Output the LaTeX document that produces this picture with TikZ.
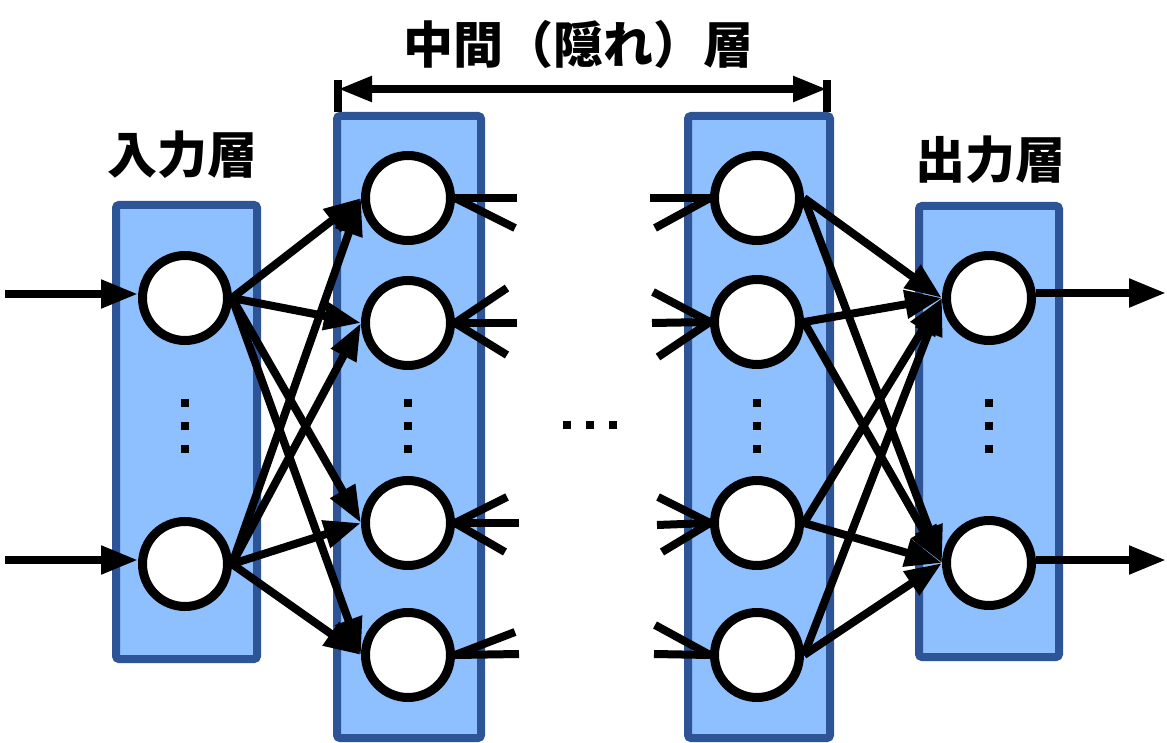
\documentclass[tikz,border=0pt]{standalone}
\usepackage{fontspec}
\newfontfamily\cjk{Noto Sans CJK JP}
\usetikzlibrary{arrows.meta}
\definecolor{boxfill}{RGB}{142,191,255}
\definecolor{boxline}{RGB}{44,84,150}
\tikzset{
  layerbox/.style={draw=boxline, fill=boxfill, line width=8pt, rounded corners=3pt, inner sep=0pt},
  neuron/.style={circle, draw=black, fill=white, line width=9pt, minimum size=85pt, inner sep=0pt},
  conn/.style={line width=8pt, -{Triangle[length=37pt,width=27pt]}},
  stub/.style={line width=8pt},
  lbl/.style={font=\cjk\bfseries\fontsize{50}{50}\selectfont, inner sep=0pt},
  dimline/.style={line width=8pt, {Triangle[length=34pt,width=24pt]}-{Triangle[length=34pt,width=24pt]}},
  tick/.style={line width=8pt},
}
\begin{document}
\begin{tikzpicture}[x=1pt,y=-1pt]
\useasboundingbox (0,0) rectangle (1167,743);
% layer boxes
\node[layerbox, minimum width=141pt, minimum height=454pt] (L0) at (186.5,432) {};
\node[layerbox, minimum width=144pt, minimum height=622pt] (L1) at (409,427) {};
\node[layerbox, minimum width=142pt, minimum height=622pt] (L2) at (759,427) {};
\node[layerbox, minimum width=140pt, minimum height=451pt] (L3) at (989,431.5) {};
% labels
\node[lbl] (tin) at (182,155) {入力層};
\node[lbl] (tout) at (990,160) {出力層};
\node[lbl] (thid) at (578,45) {中間（隠れ）層};
% dimension arrow
\coordinate (dL) at (338,89);
\coordinate (dR) at (827,89);
\coordinate (dLt) at (338,80);
\coordinate (dLb) at (338,112);
\coordinate (dRt) at (827,80);
\coordinate (dRb) at (827,112);
\draw[tick] (dLt) -- (dLb);
\draw[tick] (dRt) -- (dRb);
\draw[dimline] (dL) -- (dR);
% neurons
\node[neuron] (I1) at (185,298) {};
\node[neuron] (I2) at (185,564) {};
\node[neuron] (A1) at (408,198) {};
\node[neuron] (A2) at (408,323) {};
\node[neuron] (A3) at (408,523) {};
\node[neuron] (A4) at (408,655) {};
\node[neuron] (B1) at (757,198) {};
\node[neuron] (B2) at (757,322) {};
\node[neuron] (B3) at (757,523) {};
\node[neuron] (B4) at (757,655) {};
\node[neuron] (O1) at (989,298) {};
\node[neuron] (O2) at (989,563) {};
% vertical dots
\foreach \x in {185,408,757,989}{
  \foreach \y in {403,426,449}{
    \fill (\x-4,\y-4) rectangle (\x+4,\y+4);
  }
}
% horizontal dots
\foreach \x in {567,590,613}{
  \fill (\x-4,421) rectangle (\x+4,429);
}
% input arrows
\coordinate (in1) at (5,294);
\coordinate (in2) at (5,560);
\draw[conn] (in1) -- (in1 -| I1.west);
\draw[conn] (in2) -- (in2 -| I2.west);
% input -> hidden1
\foreach \s in {I1,I2}{
  \foreach \t in {A1,A2,A3,A4}{
    \draw[conn] (\s.east) -- (\t.west);
  }
}
% hidden1 stubs
\coordinate (a1h) at (517,198);
\coordinate (a1d) at (515,228);
\coordinate (a2u) at (507,288);
\coordinate (a2h) at (517,323);
\coordinate (a2d) at (507,355);
\coordinate (a3u) at (507,497);
\coordinate (a3h) at (519,523);
\coordinate (a3d) at (505,552);
\coordinate (a4u) at (515,632);
\coordinate (a4h) at (519,654);
\draw[stub] (A1.east) -- (a1h);
\draw[stub] (A1.east) -- (a1d);
\draw[stub] (A2.east) -- (a2u);
\draw[stub] (A2.east) -- (a2h);
\draw[stub] (A2.east) -- (a2d);
\draw[stub] (A3.east) -- (a3u);
\draw[stub] (A3.east) -- (a3h);
\draw[stub] (A3.east) -- (a3d);
\draw[stub] (A4.east) -- (a4u);
\draw[stub] (A4.east) -- (a4h);
% hidden2 stubs
\coordinate (b1h) at (650,198);
\coordinate (b1d) at (655,228);
\coordinate (b2u) at (653,292);
\coordinate (b2h) at (652,323);
\coordinate (b2d) at (658,357);
\coordinate (b3u) at (658,497);
\coordinate (b3h) at (657,525);
\coordinate (b3d) at (662,552);
\coordinate (b4u) at (655,625);
\coordinate (b4h) at (654,654);
\draw[stub] (b1h) -- (B1.west);
\draw[stub] (b1d) -- (B1.west);
\draw[stub] (b2u) -- (B2.west);
\draw[stub] (b2h) -- (B2.west);
\draw[stub] (b2d) -- (B2.west);
\draw[stub] (b3u) -- (B3.west);
\draw[stub] (b3h) -- (B3.west);
\draw[stub] (b3d) -- (B3.west);
\draw[stub] (b4u) -- (B4.west);
\draw[stub] (b4h) -- (B4.west);
% hidden2 -> output
\foreach \s in {B1,B2,B3,B4}{
  \foreach \t in {O1,O2}{
    \draw[conn] (\s.east) -- (\t.west);
  }
}
% output arrows
\coordinate (out1) at (1166,293);
\coordinate (out2) at (1166,560);
\draw[conn] (out1 -| O1.east) -- (out1);
\draw[conn] (out2 -| O2.east) -- (out2);
\end{tikzpicture}
\end{document}
